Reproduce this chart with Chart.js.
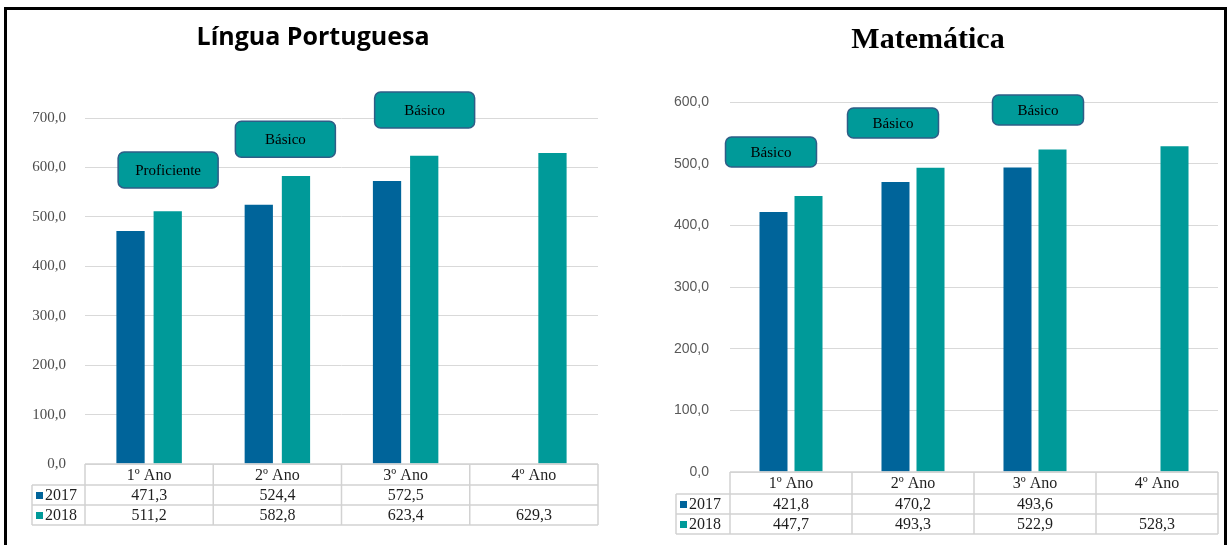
<!DOCTYPE html>
<html lang="pt">
<head>
<meta charset="utf-8">
<title>Proficiência 2017 x 2018</title>
<script src="https://cdn.jsdelivr.net/npm/chart.js@4.4.0/dist/chart.umd.min.js"></script>
<style>
  html, body { margin: 0; padding: 0; background: #fff; }
  #page { position: relative; width: 1230px; height: 545px; overflow: hidden; }
  #page canvas { position: absolute; top: 0; }
  #lp-chart { left: 0; }
  #mt-chart { left: 615px; }
  #frame {
    position: absolute; left: 4px; top: 7px; width: 1223px; height: 560px;
    box-sizing: border-box; border: 3px solid #000; border-bottom: none; pointer-events: none;
  }
</style>
</head>
<body>
<div id="page">
  <canvas id="lp-chart" width="615" height="545"></canvas>
  <canvas id="mt-chart" width="615" height="545"></canvas>
  <div id="frame"></div>
</div>
<script>
// Categories and series
const anos = ['1º Ano', '2º Ano', '3º Ano', '4º Ano'];
const serieNames = ['2017', '2018'];

// Língua Portuguesa
const lp2017 = [471.3, 524.4, 572.5, null];
const lp2018 = [511.2, 582.8, 623.4, 629.3];
const lpMax = 700;
const lpLevels = ['Proficiente', 'Básico', 'Básico'];
const lpLevelAt = [595, 657, 716];   // value where each level tag sits

// Matemática
const mt2017 = [421.8, 470.2, 493.6, null];
const mt2018 = [447.7, 493.3, 522.9, 528.3];
const mtMax = 600;
const mtLevels = ['Básico', 'Básico', 'Básico'];
const mtLevelAt = [519, 566, 587];

const colors = ['#00649a', '#009a99'];

// 471.3 -> "471,3"
function fmt(v) {
    return v == null ? '' : Number(v).toFixed(1).replace('.', ',');
}

// Data table drawn under the plot, columns follow the x scale
const dataTablePlugin = {
    id: 'dataTable',
    afterDraw(chart, args, opts) {
        const { ctx, chartArea, scales } = chart;
        const x = scales.x;
        const colW = (chartArea.right - chartArea.left) / anos.length;
        const rows = opts.rowHeights;
        const y0 = chartArea.bottom;
        const y1 = y0 + rows[0];
        const y2 = y1 + rows[1];
        const y3 = y2 + rows[2];
        const left = opts.labelLeft;

        ctx.save();
        ctx.strokeStyle = '#d2d2d2';
        ctx.lineWidth = 1.5;
        ctx.beginPath();
        ctx.moveTo(chartArea.left, y0); ctx.lineTo(chartArea.right, y0);
        [y1, y2, y3].forEach(yy => { ctx.moveTo(left, yy); ctx.lineTo(chartArea.right, yy); });
        ctx.moveTo(left, y1); ctx.lineTo(left, y3);
        for (let i = 0; i <= anos.length; i++) {
            const xx = chartArea.left + i * colW;
            ctx.moveTo(xx, y0); ctx.lineTo(xx, y3);
        }
        ctx.stroke();

        ctx.font = opts.font;
        ctx.fillStyle = '#1f1f1f';
        ctx.textAlign = 'center';
        ctx.textBaseline = 'middle';
        const series = chart.data.datasets;
        anos.forEach((a, i) => {
            const cx = x.getPixelForValue(i);
            ctx.fillText(a, cx, (y0 + y1) / 2 + 1);
            ctx.fillText(fmt(series[0].data[i]), cx, (y1 + y2) / 2 + 1);
            ctx.fillText(fmt(series[1].data[i]), cx, (y2 + y3) / 2 + 1);
        });

        // row labels with legend keys
        ctx.textAlign = 'left';
        [[y1, y2], [y2, y3]].forEach((r, k) => {
            const cy = (r[0] + r[1]) / 2;
            ctx.fillStyle = series[k].backgroundColor;
            ctx.fillRect(left + 4, cy - 3, 7, 7);
            ctx.fillStyle = '#1f1f1f';
            ctx.fillText(series[k].label, left + 13, cy + 1);
        });
        ctx.restore();
    }
};

// Performance level tags over each year group
const levelBoxPlugin = {
    id: 'levelBoxes',
    afterDatasetsDraw(chart, args, opts) {
        const { ctx, scales } = chart;
        ctx.save();
        ctx.font = opts.font;
        ctx.textAlign = 'center';
        ctx.textBaseline = 'middle';
        opts.levels.forEach((txt, i) => {
            const cx = scales.x.getPixelForValue(i) + opts.dx[i];
            const cy = scales.y.getPixelForValue(opts.values[i]);
            ctx.beginPath();
            ctx.roundRect(cx - opts.w / 2, cy - opts.h / 2, opts.w, opts.h, 6);
            ctx.fillStyle = '#009a99';
            ctx.fill();
            ctx.lineWidth = 1.5;
            ctx.strokeStyle = '#2f5d87';
            ctx.stroke();
            ctx.fillStyle = '#000';
            ctx.fillText(txt, cx, cy + 1);
        });
        ctx.restore();
    }
};

function buildChart(id, cfg) {
    return new Chart(document.getElementById(id), {
        type: 'bar',
        data: {
            labels: anos,
            datasets: [
                { label: serieNames[0], data: cfg.s2017, backgroundColor: colors[0],
                  categoryPercentage: cfg.catPct, barPercentage: cfg.barPct },
                { label: serieNames[1], data: cfg.s2018, backgroundColor: colors[1],
                  categoryPercentage: cfg.catPct, barPercentage: cfg.barPct }
            ]
        },
        options: {
            responsive: false,
            animation: false,
            layout: { padding: cfg.padding },
            plugins: {
                legend: { display: false },
                tooltip: { enabled: false },
                title: {
                    display: true, text: cfg.title, color: '#000',
                    font: cfg.titleFont, padding: cfg.titlePadding
                },
                dataTable: { rowHeights: cfg.rows, labelLeft: cfg.labelLeft, font: '16px "Liberation Serif"' },
                levelBoxes: {
                    levels: cfg.levels, values: cfg.levelAt, dx: cfg.levelDx,
                    w: cfg.boxW, h: cfg.boxH, font: '15px "Liberation Serif"'
                }
            },
            scales: {
                x: {
                    grid: { display: false },
                    border: { display: false },
                    ticks: { display: false },
                    afterFit: s => { s.height = cfg.tableHeight; }
                },
                y: {
                    min: 0, max: cfg.max,
                    ticks: { stepSize: 100, padding: cfg.tickPad, color: cfg.tickColor, font: cfg.tickFont, callback: v => fmt(v) },
                    grid: { color: '#d9d9d9', drawTicks: false },
                    border: { display: false },
                    afterFit: s => { s.width = cfg.axisWidth; }
                }
            }
        },
        plugins: [dataTablePlugin, levelBoxPlugin]
    });
}

buildChart('lp-chart', {
    s2017: lp2017, s2018: lp2018, max: lpMax,
    title: 'Língua Portuguesa',
    titleFont: { family: 'Open Sans', size: 25, weight: 'bold' },
    titlePadding: { top: 23, bottom: 65 },
    padding: { left: 28, right: 17, top: 0, bottom: 0 },
    axisWidth: 57, tickPad: 19, tickColor: '#4d4d4d',
    tickFont: { family: 'Liberation Serif', size: 15 },
    tableHeight: 81, rows: [21, 20, 20], labelLeft: 32,
    catPct: 0.58, barPct: 0.76,
    levels: lpLevels, levelAt: lpLevelAt, levelDx: [19, 8, 19], boxW: 100, boxH: 36
});

buildChart('mt-chart', {
    s2017: mt2017, s2018: mt2018, max: mtMax,
    title: 'Matemática',
    titleFont: { family: 'Liberation Serif', size: 30, weight: 'bold' },
    titlePadding: { top: 22, bottom: 44 },
    padding: { left: 23, right: 12, top: 0, bottom: 0 },
    axisWidth: 92, tickPad: 21, tickColor: '#595959',
    tickFont: { family: 'Liberation Sans', size: 14 },
    tableHeight: 73, rows: [22, 20, 20], labelLeft: 61,
    catPct: 0.574, barPct: 0.8,
    levels: mtLevels, levelAt: mtLevelAt, levelDx: [-20, -20, 3], boxW: 91, boxH: 30
});
</script>
</body>
</html>
